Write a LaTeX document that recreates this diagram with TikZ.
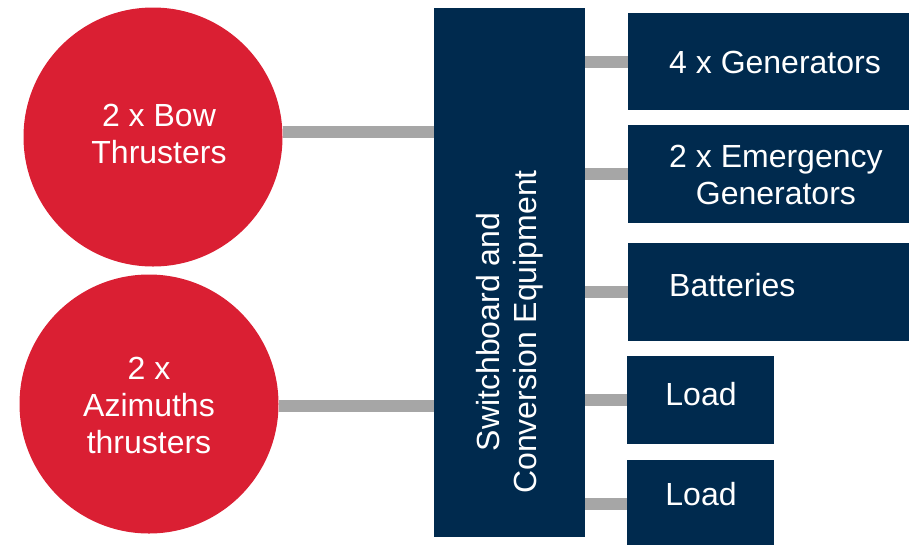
\documentclass[tikz,border=0pt]{standalone}
\usepackage{fontspec}
\setmainfont{Liberation Sans}
\usetikzlibrary{positioning}
\begin{document}
\begin{tikzpicture}[
    x=1pt, y=-1pt,
    every node/.style={font=\fontsize{32}{37}\selectfont, align=center, text=white},
    thruster/.style={circle, fill=thrusterRed, minimum size=259pt, inner sep=0pt},
    board/.style={rectangle, fill=navyTone, inner sep=0pt},
    supply/.style={board, minimum width=281pt, minimum height=98pt},
    loadbox/.style={board, minimum width=147pt, minimum height=88pt},
    boxLabel/.style={anchor=west, inner sep=0pt},
    link/.style={draw=linkGray, line width=12pt}
  ]
    \definecolor{navyTone}{RGB}{0,42,78}
    \definecolor{thrusterRed}{RGB}{218,31,51}
    \definecolor{linkGray}{RGB}{166,166,166}

    \useasboundingbox (0,0) rectangle (909,544);

    % thrusters
    \node[thruster] (bow) at (153,137) {};
    \node[inner sep=0pt] (bowLabel) at (159,134) {2 x Bow\\Thrusters};
    \node[thruster] (azi) at (149,404) {};
    \node[inner sep=0pt] (aziLabel) at (149,405) {2 x\\Azimuths\\thrusters};

    % switchboard
    \node[board, minimum width=151pt, minimum height=529pt] (sw) at (509.5,272.5) {};
    \node[rotate=90, inner sep=0pt] (swLabel) at (510,332) {Switchboard and\\Conversion Equipment};

    % supplies and loads
    \node[supply, minimum height=97pt] (gen) at (768.5,61.5) {};
    \node[boxLabel] (genLabel) at (669,62) {4 x Generators};
    \node[supply] (emg) at (768.5,174) {};
    \node[boxLabel] (emgLabel) at (669,175) {2 x Emergency\\Generators};
    \node[supply] (bat) at (768.5,292) {};
    \node[boxLabel] (batLabel) at (669,285) {Batteries};
    \node[loadbox] (loadA) at (700.5,400) {};
    \node[inner sep=0pt] (loadALabel) at (701,394) {Load};
    \node[loadbox] (loadB) at (700.5,504) {};
    \node[inner sep=0pt] (loadBLabel) at (701,494) {Load};

    % connectors
    \draw[link] ([yshift=5pt]bow.east) -- ([yshift=5pt]bow.east -| sw.west);
    \draw[link] ([yshift=-2pt]azi.east) -- ([yshift=-2pt]azi.east -| sw.west);
    \foreach \target in {gen,emg,bat,loadA,loadB}
      \draw[link] (\target.west -| sw.east) -- (\target.west);
  \end{tikzpicture}
\end{document}
